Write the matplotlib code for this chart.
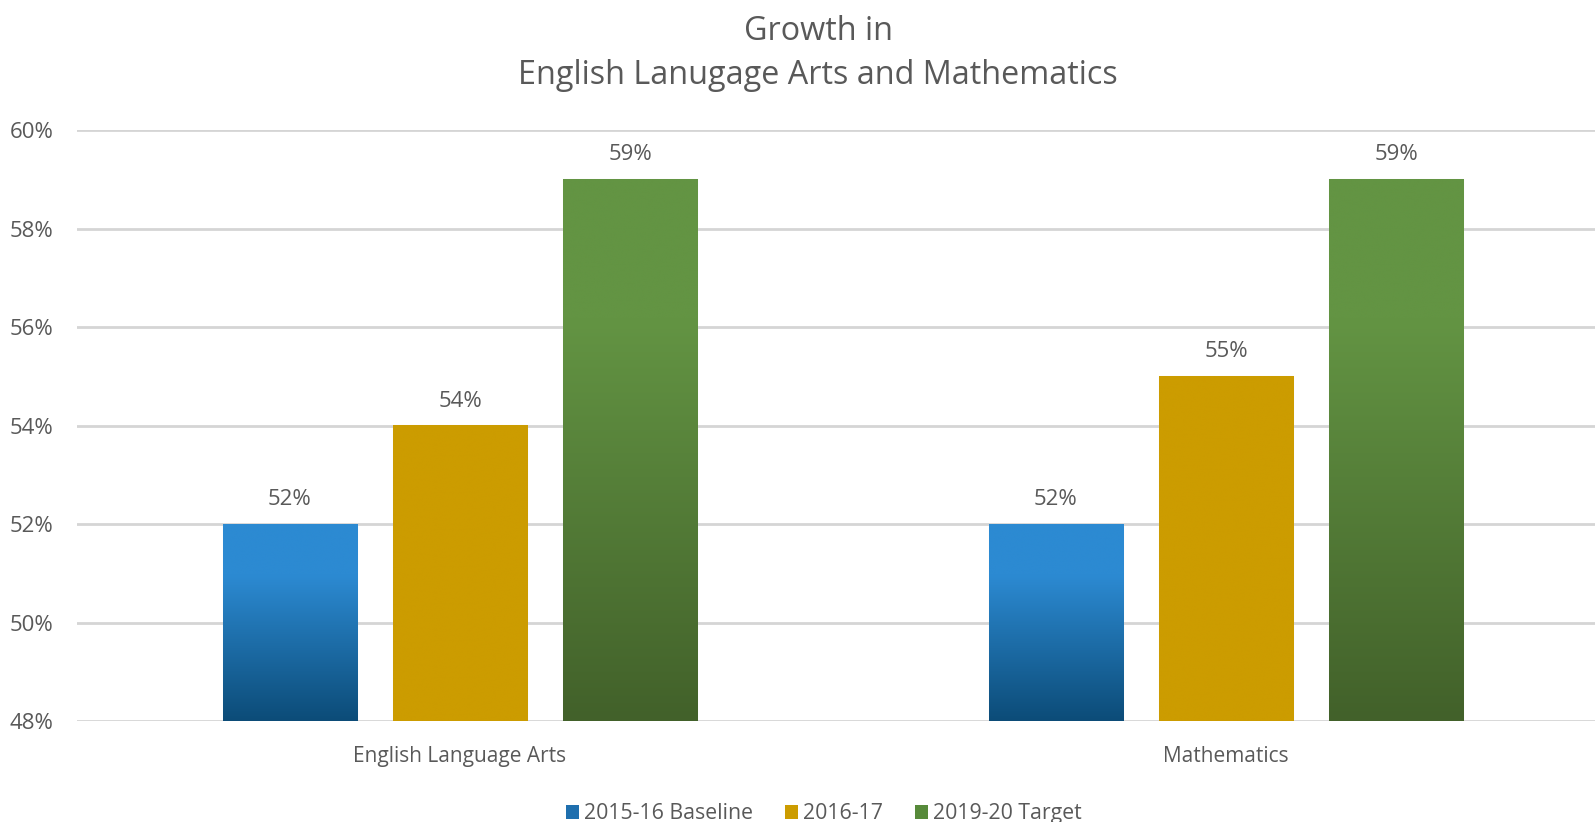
import numpy as np
import matplotlib
matplotlib.use("Agg")
import matplotlib.pyplot as plt
from matplotlib.colors import LinearSegmentedColormap
from matplotlib.patches import Patch

plt.rcParams['font.family'] = ['Open Sans', 'DejaVu Sans']

categories = ["English Language Arts", "Mathematics"]
series_names = ["2015-16 Baseline", "2016-17", "2019-20 Target"]
baseline = [52, 52]
year_2016 = [54, 55]
target = [59, 59]
y_ticks = [48, 50, 52, 54, 56, 58, 60]

series_values = [baseline, year_2016, target]
# (top colour, bottom colour) per series
series_colors = [("#2C8AD2", "#0C4C78"), ("#CC9C00", "#CC9C00"), ("#639443", "#42612A")]
legend_colors = ["#1F6FAE", "#CC9C00", "#578A3A"]

text_color = "#595959"
grid_color = "#D5D5D5"

fig = plt.figure(figsize=(15.95, 8.22), dpi=100)
ax = fig.add_axes([77 / 1595, 101 / 822, (1609 - 77) / 1595, (721 - 130) / 822])

x = np.arange(len(categories))
bar_w = 0.175
step = 0.222
y_min, y_max = 48, 60

for i, (vals, (c_top, c_bot)) in enumerate(zip(series_values, series_colors)):
    offs = x + (i - 1) * step
    bars = ax.bar(offs, [v - y_min for v in vals], bottom=y_min, width=bar_w,
                  color=c_top, edgecolor="#E8E8E8", linewidth=0.8, zorder=3)
    cmap = LinearSegmentedColormap.from_list(f"g{i}", [c_bot, c_top])
    for b, v in zip(bars, vals):
        x0 = b.get_x()
        grad = np.linspace(0, 1, 256).reshape(-1, 1)
        grad = np.clip(grad * 1.35, 0, 1)
        im = ax.imshow(grad, extent=[x0, x0 + bar_w, y_min, v], origin="lower",
                       aspect="auto", cmap=cmap, zorder=3.5, interpolation="bicubic")
        im.set_clip_path(b)
        ax.text(b.get_x() + bar_w / 2, v + 0.28, f"{v}%", ha="center", va="bottom",
                fontsize=16, color=text_color, zorder=5)

ax.set_xlim(-0.5, len(categories) - 0.5)
ax.set_ylim(y_min, y_max)
ax.set_yticks(y_ticks)
ax.set_yticklabels([f"{t}%" for t in y_ticks], fontsize=16, color=text_color)
ax.set_xticks(x)
ax.set_xticklabels(categories, fontsize=15, color=text_color)
ax.tick_params(axis="both", length=0)
ax.tick_params(axis="y", pad=17)
ax.tick_params(axis="x", pad=18)
ax.yaxis.grid(True, color=grid_color, linewidth=2, zorder=0)
ax.set_axisbelow(True)
for s in ax.spines.values():
    s.set_visible(False)

fig.text(0.513, 0.962, "Growth in", ha="center", va="center", fontsize=23.3, color=text_color)
fig.text(0.513, 0.908, "English Lanugage Arts and Mathematics", ha="center", va="center",
         fontsize=23.3, color=text_color)

handles = [Patch(facecolor=c, edgecolor="none") for c in legend_colors]
fig.legend(handles, series_names, loc="center", bbox_to_anchor=(0.5166, 0.010), ncol=3,
           frameon=False, fontsize=15.3, labelcolor=text_color, handlelength=0.6,
           handleheight=0.6, handletextpad=0.25, columnspacing=1.5)

fig.savefig("out.png", dpi=100, facecolor="white")
